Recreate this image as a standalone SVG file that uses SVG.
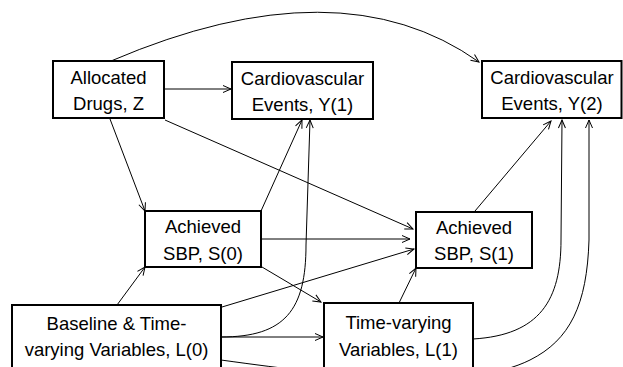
<svg xmlns="http://www.w3.org/2000/svg" width="623" height="367" viewBox="0 0 623 367">
<style>
.box{fill:#fff;stroke:#000;stroke-width:2}
.lbl{font-family:"Liberation Sans",Arial,sans-serif;font-size:18.5px;fill:#000;text-anchor:middle}
.e{fill:none;stroke:#000;stroke-width:1;marker-end:url(#a)}
</style>
<defs>
<marker id="a" markerWidth="10" markerHeight="10" refX="9" refY="5" orient="auto" markerUnits="userSpaceOnUse" overflow="visible">
<path d="M1,1.5 L9,5 L1,8.5" fill="none" stroke="#000" stroke-width="1"/>
</marker>
</defs>
<rect width="623" height="367" fill="#fff"/>
<g id="connectors">
<path class="e" d="M165,89 L231,89"/>
<path class="e" d="M111,61 Q 340,-37 479,62"/>
<path class="e" d="M110,119 L145,211"/>
<path class="e" d="M165,120 L413,229"/>
<path class="e" d="M261,211 L302,120"/>
<path class="e" d="M221,337 C 285,337 306,310 306,245 L 310,120"/>
<path class="e" d="M262,239 L410,239"/>
<path class="e" d="M262,267 L321,302"/>
<path class="e" d="M117,305 L145,267"/>
<path class="e" d="M222,307 L414,249"/>
<path class="e" d="M222,337 L323,337"/>
<path class="e" d="M221,360 C 350,378 470,390 530,360 C 570,340 587,305 589,240 L 589,120"/>
<path class="e" d="M473,339 C 540,335 561,300 561,240 L 562,120"/>
<path class="e" d="M399,303 L416,268"/>
<path class="e" d="M475,211 L551,121"/>
</g>
<g id="Z">
<rect class="box" x="53" y="61" width="111" height="57"/>
<text class="lbl" x="108.5" y="84">Allocated</text>
<text class="lbl" x="108.5" y="110">Drugs, Z</text>
</g>
<g id="Y1">
<rect class="box" x="232" y="62" width="141" height="57"/>
<text class="lbl" x="302.5" y="84.5">Cardiovascular</text>
<text class="lbl" x="302.5" y="110.5">Events, Y(1)</text>
</g>
<g id="Y2">
<rect class="box" x="482" y="61" width="139.5" height="57"/>
<text class="lbl" x="552" y="84">Cardiovascular</text>
<text class="lbl" x="552" y="110">Events, Y(2)</text>
</g>
<g id="S0">
<rect class="box" x="145" y="211" width="116" height="56"/>
<text class="lbl" x="203" y="233">Achieved</text>
<text class="lbl" x="203" y="259.5">SBP, S(0)</text>
</g>
<g id="S1">
<rect class="box" x="416" y="212" width="116" height="56"/>
<text class="lbl" x="474" y="234">Achieved</text>
<text class="lbl" x="474" y="260">SBP, S(1)</text>
</g>
<g id="L0">
<rect class="box" x="12" y="305" width="209" height="72"/>
<text class="lbl" x="116.5" y="330">Baseline &amp; Time-</text>
<text class="lbl" x="116.5" y="356">varying Variables, L(0)</text>
</g>
<g id="L1">
<rect class="box" x="324" y="303" width="149" height="74"/>
<text class="lbl" x="398.5" y="329">Time-varying</text>
<text class="lbl" x="398.5" y="355.5">Variables, L(1)</text>
</g>
</svg>
